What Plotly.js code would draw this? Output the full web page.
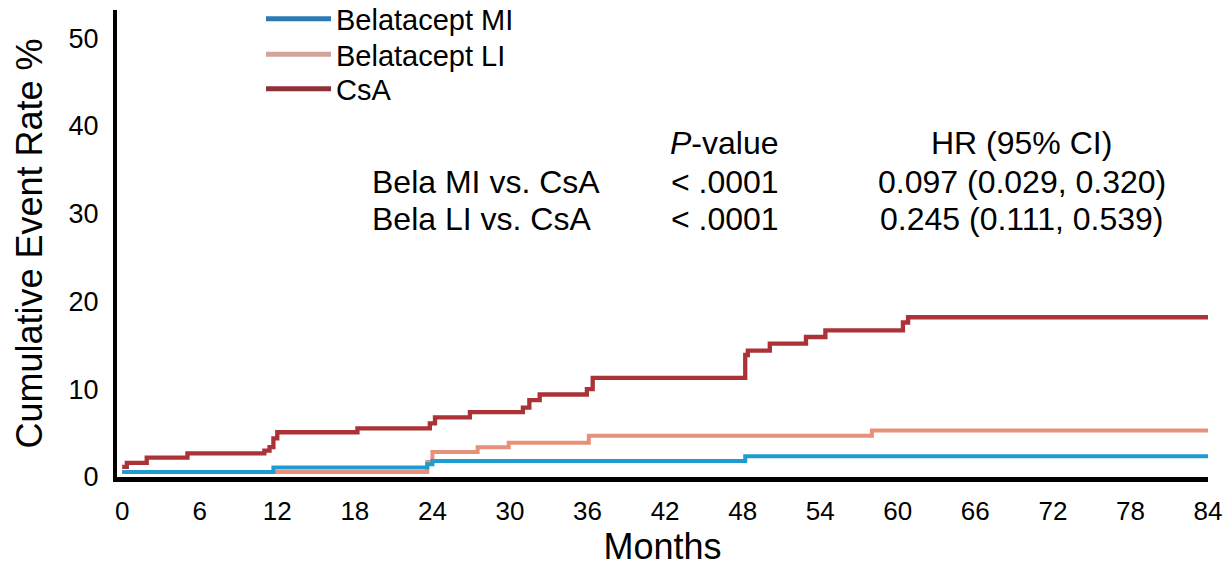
<!DOCTYPE html>
<html>
<head>
<meta charset="utf-8">
<script src="https://cdn.plot.ly/plotly-3.0.1.min.js"></script>
<style>
  html, body { margin: 0; padding: 0; background: #ffffff; }
  #chart { width: 1231px; height: 567px; }
</style>
</head>
<body>
<div id="chart"></div>
<script>
// Kaplan-Meier style cumulative event rates (months, %)
const csaMonths = [0, 0.36, 1.9, 5.05, 11.0, 11.4, 11.7, 12.0, 18.2, 23.8, 24.2, 26.9, 31.0, 31.5, 32.3, 35.95, 36.4, 48.2, 48.4, 50.1, 52.9, 54.4, 60.4, 60.8, 84];
const csaRate   = [1.15, 1.6, 2.2, 2.7, 3.0, 3.4, 4.4, 5.1, 5.55, 6.1, 6.8, 7.4, 7.9, 8.75, 9.4, 10.0, 11.3, 13.9, 14.4, 15.2, 15.95, 16.7, 17.6, 18.2, 18.2];

const liMonths = [0, 23.6, 24.0, 27.5, 29.9, 36.1, 58.0, 84];
const liRate   = [0.58, 1.7, 2.85, 3.4, 3.9, 4.7, 5.3, 5.3];

const miMonths = [0, 11.7, 23.6, 24.0, 48.2, 84];
const miRate   = [0.58, 1.08, 1.45, 1.83, 2.36, 2.36];

const seriesNames = ['Belatacept MI', 'Belatacept LI', 'CsA'];
const curveColors = ['#1E9BD0', '#E8917A', '#AB3236'];
const legendColors = ['#2B7BB2', '#D4A39B', '#8E3038'];

const xTicks = [0, 6, 12, 18, 24, 30, 36, 42, 48, 54, 60, 66, 72, 78, 84];
const yTicks = [0, 10, 20, 30, 40, 50];

const tableHeader = ['<i>P</i>-value', 'HR (95% CI)'];
const tableRows = ['Bela MI vs. CsA', 'Bela LI vs. CsA'];
const pValues = ['< .0001', '< .0001'];
const hrValues = ['0.097 (0.029, 0.320)', '0.245 (0.111, 0.539)'];

const FONT = 'Liberation Sans, Arial, Helvetica, sans-serif';
const legendIds = ['legend', 'legend2', 'legend3'];
const legendRowsY = [0.981, 0.905, 0.831];

const traces = [];
// legend-only entries (one legend per row)
seriesNames.forEach((n, i) => {
  traces.push({
    x: [null], y: [null], type: 'scatter', mode: 'lines', name: n, legend: legendIds[i],
    line: { color: legendColors[i], width: 5 }, showlegend: true, hoverinfo: 'skip'
  });
});
// curves (LI under MI)
traces.push({ x: liMonths, y: liRate, type: 'scatter', mode: 'lines', name: seriesNames[1],
  line: { color: curveColors[1], width: 4, shape: 'hv' }, showlegend: false });
traces.push({ x: miMonths, y: miRate, type: 'scatter', mode: 'lines', name: seriesNames[0],
  line: { color: curveColors[0], width: 4, shape: 'hv' }, showlegend: false });
traces.push({ x: csaMonths, y: csaRate, type: 'scatter', mode: 'lines', name: seriesNames[2],
  line: { color: curveColors[2], width: 4.3, shape: 'hv' }, showlegend: false });

const annFont = { family: FONT, size: 32, color: '#000000' };
const annotations = [
  { x: 46.6, y: 38.1, text: tableHeader[0], xanchor: 'center' },
  { x: 69.6, y: 38.1, text: tableHeader[1], xanchor: 'center' },
  { x: 19.2, y: 33.6, text: tableRows[0], xanchor: 'left' },
  { x: 46.6, y: 33.6, text: pValues[0], xanchor: 'center' },
  { x: 69.6, y: 33.6, text: hrValues[0], xanchor: 'center' },
  { x: 19.2, y: 29.4, text: tableRows[1], xanchor: 'left' },
  { x: 46.6, y: 29.4, text: pValues[1], xanchor: 'center' },
  { x: 69.6, y: 29.4, text: hrValues[1], xanchor: 'center' }
].map(a => Object.assign({ xref: 'x', yref: 'y', yanchor: 'middle', showarrow: false, font: annFont }, a));

function legendBox(yPos) {
  return {
    x: 0.132, xanchor: 'left', y: yPos, yanchor: 'middle',
    font: { family: FONT, size: 29, color: '#000000' },
    bgcolor: 'rgba(0,0,0,0)', borderwidth: 0, itemwidth: 65
  };
}

const layout = {
  width: 1231, height: 567,
  margin: { l: 116.5, r: 22.5, t: 10, b: 90, autoexpand: false },
  paper_bgcolor: '#ffffff', plot_bgcolor: '#ffffff',
  font: { family: FONT, color: '#000000' },
  showlegend: true,
  legend: legendBox(legendRowsY[0]),
  legend2: legendBox(legendRowsY[1]),
  legend3: legendBox(legendRowsY[2]),
  xaxis: {
    range: [-0.4, 84], tickvals: xTicks, ticktext: xTicks.map(String),
    showgrid: false, zeroline: false, showline: true, linecolor: '#000000', linewidth: 4.5,
    ticks: '', ticklabelstandoff: 7,
    tickfont: { family: FONT, size: 26, color: '#000000' },
    title: { text: 'Months', font: { family: FONT, size: 36, color: '#000000' }, standoff: 22 },
    automargin: false, fixedrange: true
  },
  yaxis: {
    range: [0, 53.2], tickvals: yTicks, ticktext: yTicks.map(String),
    showgrid: false, zeroline: false, showline: true, linecolor: '#000000', linewidth: 4,
    ticks: '', ticklabelstandoff: 9,
    tickfont: { family: FONT, size: 27, color: '#000000' },
    title: { text: 'Cumulative Event Rate %', font: { family: FONT, size: 36, color: '#000000' }, standoff: 16 },
    automargin: false, fixedrange: true
  },
  annotations: annotations
};

Plotly.newPlot('chart', traces, layout, { displayModeBar: false, staticPlot: true });
</script>
</body>
</html>
